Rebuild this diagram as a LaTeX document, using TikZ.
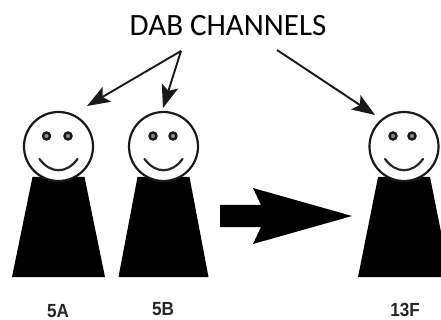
\documentclass[tikz,border=0pt]{standalone}
\usepackage{fontspec}
\setmainfont{Carlito}
\newfontfamily\labelfont{Liberation Sans}
\usetikzlibrary{arrows.meta}
\tikzset{
  head/.style={draw=black!90,fill=white,line width=2.2pt,circle,minimum size=69pt,inner sep=0pt},
  eye/.style={draw=black!90,fill=black!45,line width=2.4pt,circle,minimum size=7pt,inner sep=0pt},
  smile/.style={draw=black!85,line width=2.2pt,line cap=round},
  body/.style={fill=black,draw=none},
  pointer/.style={draw=black!90,line width=1.9pt,-{Stealth[length=23pt,width=17pt,inset=5pt]}},
  title/.style={font=\fontsize{31}{31}\selectfont,text=black,inner sep=0pt},
  tag/.style={font=\labelfont\bfseries\fontsize{19}{19}\selectfont,text=black!85,inner sep=0pt,xscale=0.9}
}
\newcommand{\person}[5]{%
  \fill[body] (#2-26,177) -- (#2+26,177) -- (#2+#5,277) -- (#2-#5,277) -- cycle;
  \node[head] (#1) at (#2,146.5) {};
  \node[eye] (#1l) at (#3,136) {};
  \node[eye] (#1r) at (#4,136) {};
  \draw[smile] (#2-19,159) .. controls (#2-8,174) and (#2+8,174) .. (#2+19,159);
}
\begin{document}
\begin{tikzpicture}[x=1pt,y=-1pt]
\useasboundingbox (0,0) rectangle (441,320);
\clip (0,0) rectangle (441,320);
\fill[white] (0,0) rectangle (441,320);
\node[title] (t) at (228,25.5) {DAB CHANNELS};
\person{a}{58.5}{46.5}{68}{46.5}
\person{b}{163.5}{153}{173}{45}
\person{c}{404}{393}{412}{46}
\node[tag] (la) at (58,311) {5A};
\node[tag] (lb) at (163,309.5) {5B};
\node[tag] (lc) at (405,310) {13F};
\coordinate (s1) at (181,51);
\coordinate (s2) at (277,50);
\coordinate (e1) at (87,106);
\coordinate (e2) at (163,108);
\coordinate (e3) at (375,115);
\draw[pointer] (s1) -- (e1);
\draw[pointer] (s1) -- (e2);
\draw[pointer] (s2) -- (e3);
\fill[black] (220,205) -- (261,205) -- (253,188) -- (352,216) -- (253,244) -- (261,227) -- (220,227) -- cycle;
\end{tikzpicture}
\end{document}
